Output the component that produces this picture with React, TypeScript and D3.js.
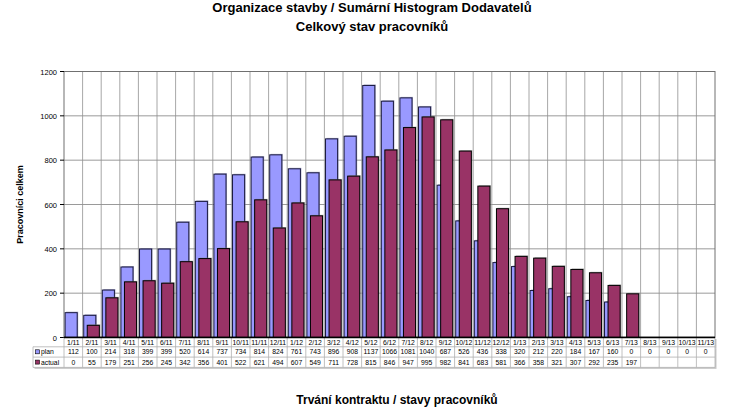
import * as d3 from "d3";

const categories = [
  "1/11", "2/11", "3/11", "4/11", "5/11", "6/11", "7/11", "8/11", "9/11", "10/11", "11/11", "12/11",
  "1/12", "2/12", "3/12", "4/12", "5/12", "6/12", "7/12", "8/12", "9/12", "10/12", "11/12", "12/12",
  "1/13", "2/13", "3/13", "4/13", "5/13", "6/13", "7/13", "8/13", "9/13", "10/13", "11/13",
];
const plan = [
  112, 100, 214, 318, 399, 399, 520, 614, 737, 734, 814, 824,
  761, 743, 896, 908, 1137, 1066, 1081, 1040, 687, 526, 436, 338,
  320, 212, 220, 184, 167, 160, 0, 0, 0, 0, 0,
];
const actual: (number | null)[] = [
  0, 55, 179, 251, 256, 245, 342, 356, 401, 522, 621, 494,
  607, 549, 711, 728, 815, 846, 947, 995, 982, 841, 683, 581,
  366, 358, 321, 307, 292, 235, 197, null, null, null, null,
];
const yTicks = [0, 200, 400, 600, 800, 1000, 1200];

const W = 741;
const H = 408;
const left = 64;
const right = 715;
const top = 71.5;
const bottom = 337.5;
const rowH = 10.3;
const legendX = 33;

const PLAN_COLOR = "#9999ff";
const ACTUAL_COLOR = "#993366";
const FONT = "'Liberation Sans', Arial, sans-serif";
const NARROW = "'Liberation Sans Narrow', 'Arial Narrow', 'Liberation Sans', Arial, sans-serif";

export default function App() {
  const x = d3.scaleBand<string>().domain(categories).range([left, right]).padding(0);
  const y = d3.scaleLinear().domain([0, 1200]).range([bottom, top]);
  const bw = x.bandwidth();

  const headerTop = bottom;
  const planTop = bottom + rowH - 1;
  const actualTop = planTop + rowH;
  const tableBottom = actualTop + rowH;

  return (
    <svg width={W} height={H} style={{ position: "absolute", left: 0, top: 0, background: "#fff" }}>
      {/* titles */}
      <text x={372} y={12} textAnchor="middle" fontFamily={NARROW} fontWeight="bold" fontSize={13}>
        Organizace stavby / Sumární Histogram Dodavatelů
      </text>
      <text x={372} y={31} textAnchor="middle" fontFamily={NARROW} fontWeight="bold" fontSize={13}>
        Celkový stav pracovníků
      </text>
      <text x={397} y={404} textAnchor="middle" fontFamily={NARROW} fontWeight="bold" fontSize={12}>
        Trvání kontraktu / stavy pracovníků
      </text>
      <text
        transform={`translate(23,${(top + bottom) / 2}) rotate(-90)`}
        textAnchor="middle"
        fontFamily={FONT}
        fontWeight="bold"
        fontSize={9}
      >
        Pracovníci celkem
      </text>

      {/* grid */}
      {yTicks.map((t) => (
        <line key={"h" + t} x1={left} x2={right} y1={y(t)} y2={y(t)} stroke="#808080" strokeWidth={0.8} />
      ))}
      {categories.map((c, i) =>
        i === 0 ? null : (
          <line key={"v" + c} x1={x(c)} x2={x(c)} y1={top} y2={bottom} stroke="#909090" strokeWidth={0.8} />
        )
      )}
      <rect x={left} y={top} width={right - left} height={bottom - top} fill="none" stroke="#707070" strokeWidth={1} />

      {/* y ticks */}
      {yTicks.map((t) => (
        <g key={"t" + t}>
          <line x1={left - 4} x2={left} y1={y(t)} y2={y(t)} stroke="#000" />
          <text x={left - 7} y={y(t) + 3} textAnchor="end" fontFamily={FONT} fontSize={7.5}>
            {t}
          </text>
        </g>
      ))}

      {/* plan bars */}
      {categories.map((c, i) => {
        const v = plan[i];
        if (!v) return null;
        const bx = (x(c) as number) + bw * 0.06;
        const w = bw * 0.65;
        return (
          <g key={"p" + c}>
            <rect x={bx + 1} y={y(v) - 1} width={w} height={bottom - y(v) + 1} fill="#7070a0" opacity={0.6} />
            <rect x={bx} y={y(v)} width={w} height={bottom - y(v)} fill={PLAN_COLOR} stroke="#1a1a40" strokeWidth={1} />
          </g>
        );
      })}

      {/* actual bars */}
      {categories.map((c, i) => {
        const v = actual[i];
        if (!v) return null;
        const bx = (x(c) as number) + bw * 0.25;
        const w = bw * 0.65;
        return (
          <g key={"a" + c}>
            <rect x={bx + 1} y={y(v) - 1} width={w} height={bottom - y(v) + 1} fill="#888" opacity={0.6} />
            <rect x={bx} y={y(v)} width={w} height={bottom - y(v)} fill={ACTUAL_COLOR} stroke="#000" strokeWidth={1} />
          </g>
        );
      })}

      <line x1={left} x2={right} y1={bottom} y2={bottom} stroke="#000" strokeWidth={1.5} />

      {/* data table */}
      <rect x={legendX + 1.5} y={planTop + 1.5} width={right - legendX} height={tableBottom - planTop} fill="#c8c8c8" />
      <rect x={left + 1.5} y={headerTop + 1.5} width={right - left} height={planTop - headerTop} fill="#c8c8c8" />
      <rect x={legendX} y={planTop} width={right - legendX} height={tableBottom - planTop} fill="#fff" />
      <rect x={left} y={headerTop} width={right - left} height={planTop - headerTop} fill="#fff" />
      {[planTop, actualTop, tableBottom].map((yy, k) => (
        <line key={"tr" + k} x1={legendX} x2={right} y1={yy} y2={yy} stroke="#b0b0b0" strokeWidth={0.8} />
      ))}
      {categories.map((c) => (
        <line key={"tc" + c} x1={x(c)} x2={x(c)} y1={headerTop} y2={tableBottom} stroke="#b0b0b0" strokeWidth={0.8} />
      ))}
      <line x1={right} x2={right} y1={headerTop} y2={tableBottom} stroke="#b0b0b0" strokeWidth={0.8} />
      <line x1={legendX} x2={legendX} y1={planTop} y2={tableBottom} stroke="#b0b0b0" strokeWidth={0.8} />
      <line x1={left} x2={right} y1={bottom} y2={bottom} stroke="#000" strokeWidth={1.5} />

      {categories.map((c, i) => {
        const cx = (x(c) as number) + bw / 2;
        return (
          <g key={"tt" + c} fontFamily={FONT} fontSize={6.8} textAnchor="middle">
            <text x={cx} y={headerTop + 7.8}>{c}</text>
            <text x={cx} y={planTop + 7.6}>{plan[i]}</text>
            {actual[i] != null && <text x={cx} y={actualTop + 7.6}>{actual[i]}</text>}
          </g>
        );
      })}

      {/* legend keys */}
      <rect x={legendX + 2.5} y={planTop + 3} width={4} height={4} fill={PLAN_COLOR} stroke="#000" strokeWidth={0.6} />
      <text x={legendX + 8} y={planTop + 7.6} fontFamily={FONT} fontSize={6.8}>plan</text>
      <rect x={legendX + 2.5} y={actualTop + 3} width={4} height={4} fill={ACTUAL_COLOR} stroke="#000" strokeWidth={0.6} />
      <text x={legendX + 8} y={actualTop + 7.6} fontFamily={FONT} fontSize={6.8}>actual</text>
    </svg>
  );
}
